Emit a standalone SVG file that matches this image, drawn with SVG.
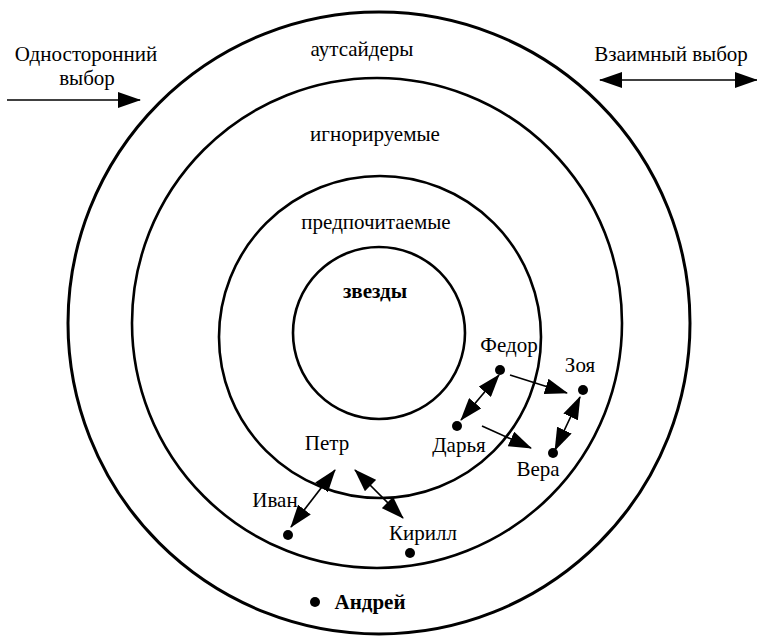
<svg xmlns="http://www.w3.org/2000/svg" width="757" height="637" viewBox="0 0 757 637">
<defs>
<marker id="ah" markerUnits="userSpaceOnUse" markerWidth="23" markerHeight="16" refX="22" refY="8" orient="auto-start-reverse" viewBox="0 0 23 16">
<path d="M0,0 L23,8 L0,16 z" fill="#000"/>
</marker>
<style>
.ring{fill:none;stroke:#000;stroke-width:2.6}
.t{font-family:"Liberation Serif","Times New Roman",serif;font-size:21px;fill:#000;text-anchor:middle}
.b{font-weight:bold}
.c{stroke:#000;stroke-width:1.7;fill:none}
.dot{fill:#000}
</style>
</defs>
<rect width="757" height="637" fill="#fff"/>
<g id="rings">
<circle id="outer" class="ring" cx="379" cy="323" r="311" style="stroke-width:3"/>
<circle id="second" class="ring" cx="377" cy="323" r="245"/>
<circle id="third" class="ring" cx="380" cy="337" r="161"/>
<circle id="inner" class="ring" cx="379" cy="333" r="86"/>
</g>
<g id="labels">
<text class="t" x="362" y="56">аутсайдеры</text>
<text class="t" x="375" y="141">игнорируемые</text>
<text class="t" x="376" y="229">предпочитаемые</text>
<text class="t b" x="375" y="298">звезды</text>
</g>
<g id="legend-one">
<text class="t" x="86" y="61">Односторонний</text>
<text class="t" x="87" y="85">выбор</text>
<line class="c" x1="7" y1="100" x2="140" y2="100" marker-end="url(#ah)"/>
</g>
<g id="legend-mutual">
<text class="t" x="671" y="61">Взаимный выбор</text>
<line class="c" x1="600" y1="80" x2="757" y2="80" marker-start="url(#ah)" marker-end="url(#ah)"/>
</g>
<g id="fedor"><circle class="dot" cx="500" cy="370" r="5"/><text class="t" x="509" y="352">Федор</text></g>
<g id="zoya"><circle class="dot" cx="583" cy="390" r="5"/><text class="t" x="580" y="372">Зоя</text></g>
<g id="darya"><circle class="dot" cx="457" cy="426" r="5"/><text class="t" x="459" y="452">Дарья</text></g>
<g id="vera"><circle class="dot" cx="553" cy="453" r="5"/><text class="t" x="538" y="476">Вера</text></g>
<g id="petr"><text class="t" x="327" y="450">Петр</text></g>
<g id="ivan"><circle class="dot" cx="288" cy="535" r="5"/><text class="t" x="275" y="507">Иван</text></g>
<g id="kirill"><circle class="dot" cx="410" cy="553" r="5"/><text class="t" x="423" y="540">Кирилл</text></g>
<g id="andrey"><circle class="dot" cx="315" cy="602" r="5"/><text class="t b" x="370" y="609">Андрей</text></g>
<g id="connectors">
<line class="c" x1="461" y1="420" x2="499" y2="375" marker-start="url(#ah)" marker-end="url(#ah)"/>
<line class="c" x1="510" y1="375" x2="567" y2="393" marker-end="url(#ah)"/>
<line class="c" x1="482" y1="426" x2="531" y2="448" marker-end="url(#ah)"/>
<line class="c" x1="555" y1="450" x2="580" y2="397" marker-start="url(#ah)" marker-end="url(#ah)"/>
<line class="c" x1="291" y1="527" x2="335" y2="470" marker-start="url(#ah)" marker-end="url(#ah)"/>
<line class="c" x1="355" y1="470" x2="403" y2="518" marker-start="url(#ah)" marker-end="url(#ah)"/>
</g>
</svg>
